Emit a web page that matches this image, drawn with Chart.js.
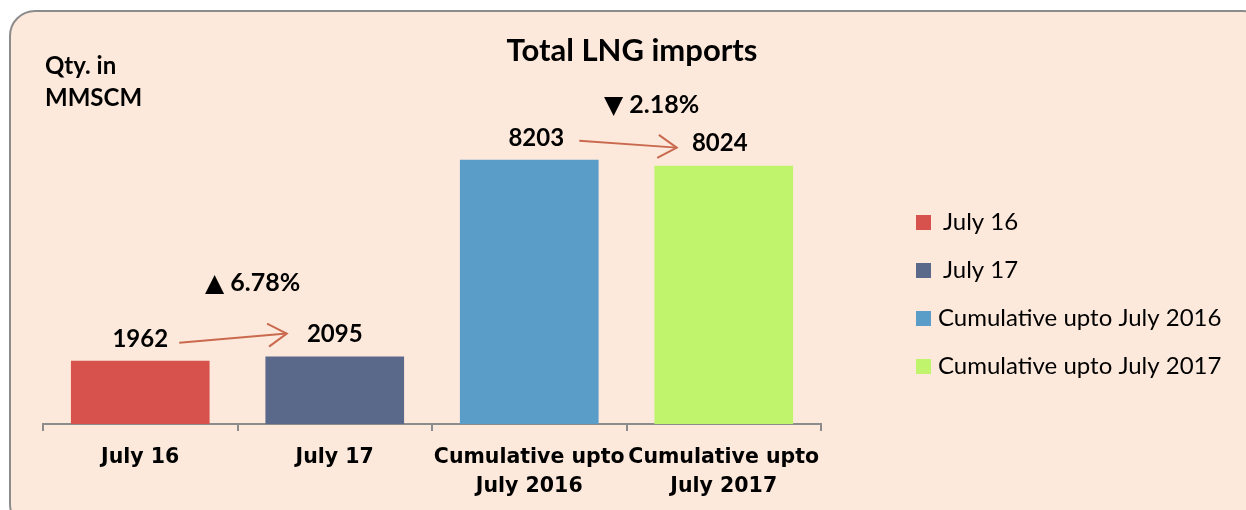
<!DOCTYPE html>
<html>
<head>
<meta charset="utf-8">
<script src="https://cdn.jsdelivr.net/npm/chart.js@4.4.1/dist/chart.umd.min.js"></script>
<style>
  html, body { margin: 0; padding: 0; background: #fff; }
  body { width: 1246px; height: 510px; position: relative; overflow: hidden; }
  .frame {
    position: absolute; left: 9px; top: 10px; width: 1260px; height: 520px;
    background: #fde9db; border: 2px solid #8c8c8c; border-radius: 26px; box-sizing: border-box;
  }
  #wrap { position: absolute; left: 0; top: 0; width: 1246px; height: 510px; }
</style>
</head>
<body>
<div class="frame"></div>
<div id="wrap"><canvas id="lng"></canvas></div>
<script>
// Total LNG imports — four bars, value labels, change arrows, legend on the right
const categories = [['July 16'], ['July 17'], ['Cumulative upto', 'July 2016'], ['Cumulative upto', 'July 2017']]
const legendLabels = ['July 16', 'July 17', 'Cumulative upto July 2016', 'Cumulative upto July 2017']
const imports = [1962, 2095, 8203, 8024]
const barColors = ['#d8524d', '#5a688a', '#5a9dc8', '#bff46c']
// pairs compared with an arrow: [from, to]
const comparisons = [[0, 1], [2, 3]]

const SANS = 'Lato, "DejaVu Sans", sans-serif'

const decorations = {
  id: 'decorations',
  afterDatasetsDraw(chart) {
    const ctx = chart.ctx
    const bars = chart.getDatasetMeta(0).data
    ctx.save()

    // title + unit
    ctx.fillStyle = '#000'
    ctx.textAlign = 'center'
    ctx.textBaseline = 'middle'
    ctx.font = 'bold 31px ' + SANS
    ctx.fillText('Total LNG imports', 632, 51)
    ctx.textAlign = 'left'
    ctx.font = 'bold 24px ' + SANS
    ctx.fillText('Qty. in', 45, 66)
    ctx.fillText('MMSCM', 45, 98)

    // value labels
    ctx.textAlign = 'center'
    ctx.font = 'bold 24px ' + SANS
    const labelY = []
    bars.forEach((b, i) => {
      const y = b.y - 22
      labelY.push(y)
      ctx.fillText(String(imports[i]), b.x + (i === 2 ? 7 : i === 3 ? -4 : 0), y)
    })

    // arrows + change percentages
    const arrowFrom = [[39, 4], [50, 3]]
    const arrowTo = [[-48, -1], [-47, 4]]
    const pctPos = [[15, -52], [25, -33]]
    comparisons.forEach(([a, b], k) => {
      const x0 = bars[a].x + arrowFrom[k][0], y0 = labelY[a] + arrowFrom[k][1]
      const x1 = bars[b].x + arrowTo[k][0], y1 = labelY[b] + arrowTo[k][1]
      ctx.strokeStyle = '#c96a4f'
      ctx.lineWidth = 2
      ctx.beginPath(); ctx.moveTo(x0, y0); ctx.lineTo(x1, y1); ctx.stroke()
      const ang = Math.atan2(y1 - y0, x1 - x0)
      ctx.beginPath()
      ctx.moveTo(x1 - 22 * Math.cos(ang - 0.55), y1 - 22 * Math.sin(ang - 0.55))
      ctx.lineTo(x1, y1)
      ctx.lineTo(x1 - 22 * Math.cos(ang + 0.55), y1 - 22 * Math.sin(ang + 0.55))
      ctx.stroke()

      const change = (imports[b] - imports[a]) / imports[a] * 100
      const txt = (change >= 0 ? '\u25B2 ' : '\u25BC ') + Math.abs(change).toFixed(2) + '%'
      ctx.fillStyle = '#000'
      ctx.font = 'bold 25px ' + SANS
      ctx.fillText(txt, (bars[a].x + bars[b].x) / 2 + pctPos[k][0], Math.min(labelY[a], labelY[b]) + pctPos[k][1])
    })

    // legend
    ctx.textAlign = 'left'
    ctx.font = '24px ' + SANS
    legendLabels.forEach((l, i) => {
      const y = 222 + i * 48
      ctx.fillStyle = barColors[i]
      ctx.fillRect(916, y - 7, 15, 15)
      ctx.fillStyle = '#000'
      ctx.fillText(l, i < 2 ? 943 : 938, y)
    })
    ctx.restore()
  }
}

new Chart(document.getElementById('lng'), {
  type: 'bar',
  data: {
    labels: categories,
    datasets: [{ label: 'Total LNG imports', data: imports, backgroundColor: barColors, categoryPercentage: 1, barPercentage: 0.713 }]
  },
  options: {
    responsive: true,
    maintainAspectRatio: false,
    animation: false,
    layout: { padding: { left: 43, right: 425, top: 102, bottom: 0 } },
    plugins: { legend: { display: false }, tooltip: { enabled: false } },
    scales: {
      y: { display: false, min: 0, max: 10000 },
      x: {
        afterFit(scale) { scale.height = 86 },
        border: { display: true, color: '#8c8c8c', width: 2 },
        grid: { drawOnChartArea: false, color: '#8c8c8c', tickLength: 7, lineWidth: 2 },
        ticks: { color: '#000', padding: 12, font: { family: '"DejaVu Sans", sans-serif', weight: 'bold', size: 20.5, lineHeight: 1.41 }, maxRotation: 0, autoSkip: false }
      }
    }
  },
  plugins: [decorations]
})
</script>
</body>
</html>
